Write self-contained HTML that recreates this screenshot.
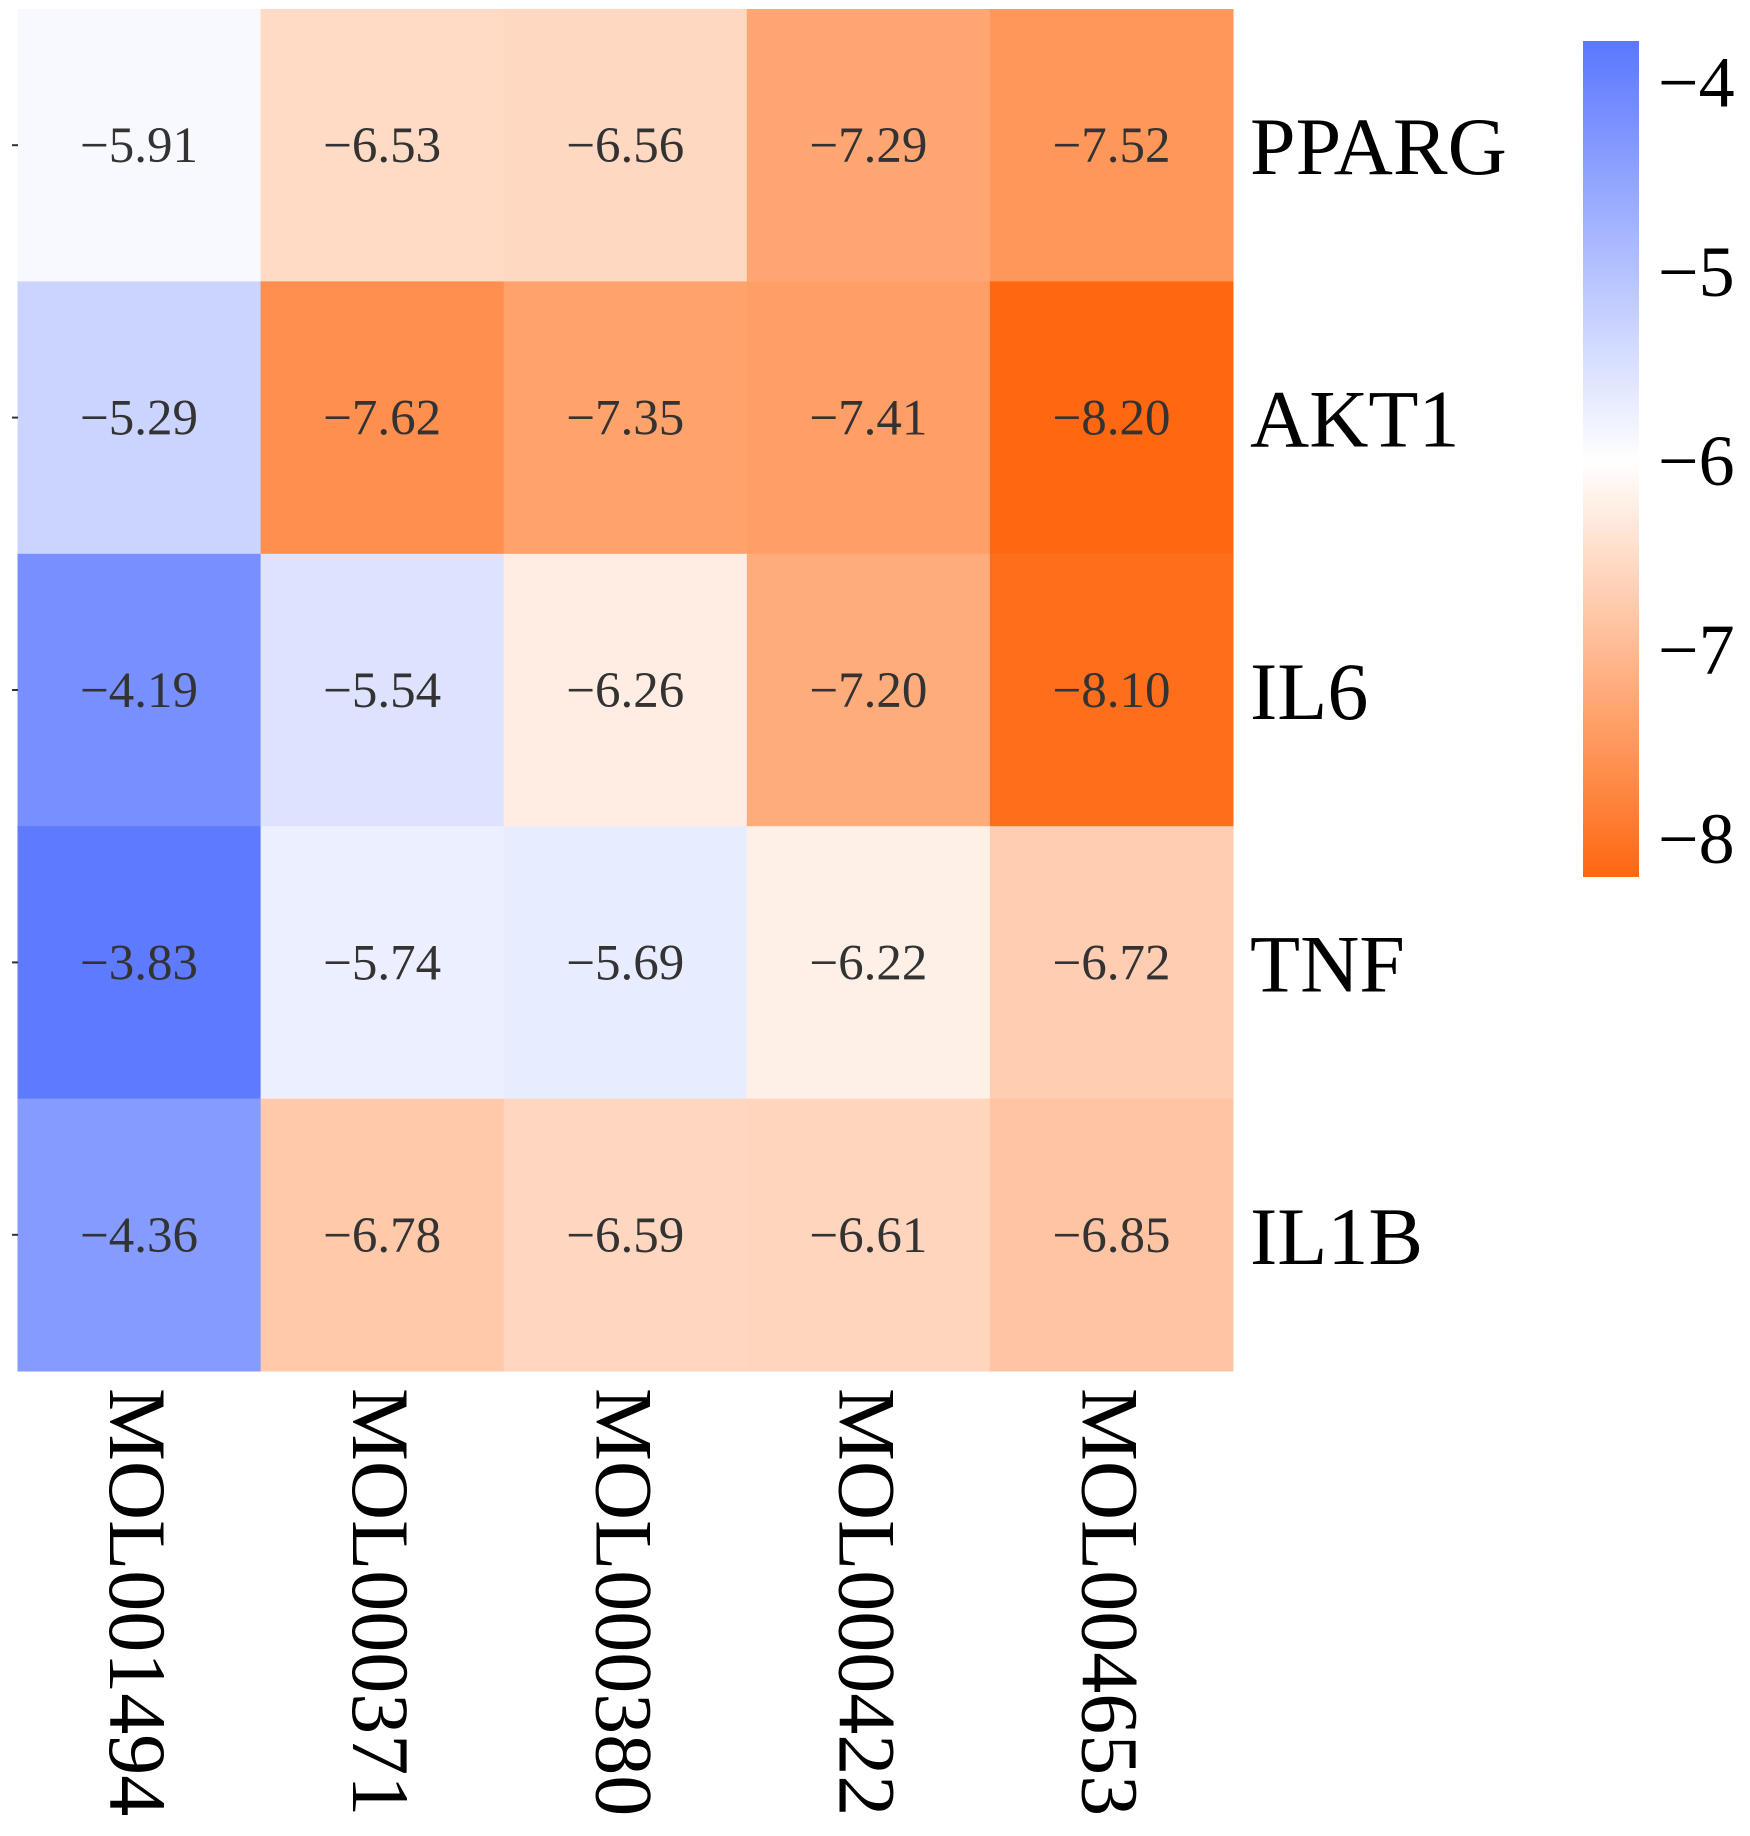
<!DOCTYPE html>
<html><head><meta charset="utf-8"><style>
body{margin:0;background:#fff}
svg text{font-family:"Liberation Serif",serif}
</style></head><body>
<svg id="chart" width="1750" height="1831" xmlns="http://www.w3.org/2000/svg">
<defs><linearGradient id="cbg" x1="0" y1="0" x2="0" y2="1"></linearGradient></defs>
<g id="cells"></g><g id="rowlabels"></g><g id="collabels"></g><g id="cbar"></g>
</svg>
<script>
const rows=["PPARG","AKT1","IL6","TNF","IL1B"];
const cols=["MOL001494","MOL000371","MOL000380","MOL000422","MOL004653"];
const v0=[-5.91,-6.53,-6.56,-7.29,-7.52];
const v1=[-5.29,-7.62,-7.35,-7.41,-8.20];
const v2=[-4.19,-5.54,-6.26,-7.20,-8.10];
const v3=[-3.83,-5.74,-5.69,-6.22,-6.72];
const v4=[-4.36,-6.78,-6.59,-6.61,-6.85];
const cbTicks=[-4,-5,-6,-7,-8];
const vals=[v0,v1,v2,v3,v4];
const vmax=-3.78,vmin=-8.2,vc=-6.0;
const X0=17.5,X1=1233,Y0=9,Y1=1371;
const cw=(X1-X0)/cols.length,ch=(Y1-Y0)/rows.length;
const blue=[90,119,255],white=[255,255,255],orange=[255,103,16];
function mix(a,b,t){return a.map((x,i)=>Math.round(x+(b[i]-x)*t));}
function color(v){let c;if(v>=vc){c=mix(white,blue,Math.min(1,(v-vc)/(vmax-vc)));}else{c=mix(white,orange,Math.min(1,(vc-v)/(vc-vmin)));}return `rgb(${c.join(',')})`;}
const NS="http://www.w3.org/2000/svg";
function el(t,a,p){const e=document.createElementNS(NS,t);for(const k in a)e.setAttribute(k,a[k]);p.appendChild(e);return e;}
const cells=document.getElementById('cells'),rl=document.getElementById('rowlabels'),cl=document.getElementById('collabels'),cb=document.getElementById('cbar');
rows.forEach((r,i)=>{
 cols.forEach((c,j)=>{
  const v=vals[i][j];
  const rc=el('rect',{x:X0+j*cw,y:Y0+i*ch,width:cw+0.5,height:ch+0.5,fill:color(v)},cells);
  
  
  const t=el('text',{x:X0+(j+.5)*cw,y:Y0+(i+.5)*ch+17,'text-anchor':'middle','font-size':51,fill:'#333'},cells);
  t.textContent=v.toFixed(2).replace('-','\u2212');
  
  
 });
 const tk=el('line',{x1:12,x2:18,y1:Y0+(i+.5)*ch,y2:Y0+(i+.5)*ch,stroke:'#333','stroke-width':2},rl);
 
 
 const lt=el('text',{x:1250,y:Y0+(i+.5)*ch+29,'font-size':82,fill:'#000'},rl);
 lt.textContent=r;
 
 
});
cols.forEach((c,j)=>{
 const x=X0+(j+.5)*cw-29,y=1388;
 const t=el('text',{x:x,y:y,'font-size':82,fill:'#000',transform:`rotate(90 ${x} ${y})`},cl);
 t.textContent=c;
 
 
});
const CX=1583,CW=56,CY0=41,CY1=877;
const g=document.getElementById('cbg');
const nStops=[vmax,vc,vmin];
nStops.forEach(v=>{el('stop',{offset:(vmax-v)/(vmax-vmin),'stop-color':color(v)},g);});
const bar=el('rect',{x:CX,y:CY0,width:CW,height:CY1-CY0,fill:'url(#cbg)'},cb);


function cy(v){return CY0+(vmax-v)/(vmax-vmin)*(CY1-CY0);}
cbTicks.forEach(v=>{
 const t=el('text',{x:1658,y:cy(v)+24,'font-size':72,fill:'#000'},cb);
 t.textContent='\u2212'+Math.abs(v);
 
 
});
</script>
</body></html>
